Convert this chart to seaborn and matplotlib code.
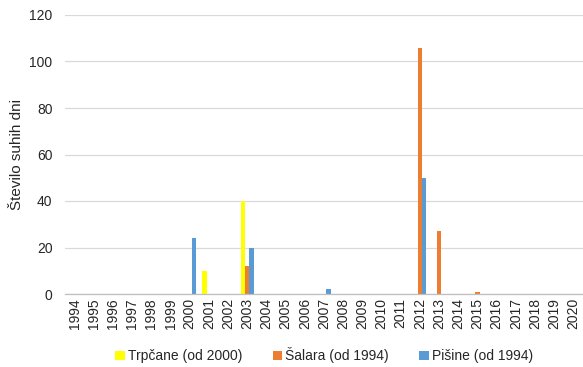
import numpy as np
import pandas as pd
import matplotlib
matplotlib.use("Agg")
import matplotlib.pyplot as plt
import seaborn as sns
from matplotlib.ticker import FixedLocator

years = [str(y) for y in range(1994, 2021)]
series_names = ["Trpčane (od 2000)", "Šalara (od 1994)", "Pišine (od 1994)"]
colors = ["#FFFF00", "#ED7D31", "#5B9BD5"]

# number of dry days per year for each station
trpcane = [np.nan] * 6 + [0, 10, 0, 40, 0, 0, 0, 0, 0, 0, 0, 0, 0, 0, 0, 0, 0, 0, 0, 0, 0]
salara = [0, 0, 0, 0, 0, 0, 0, 0, 0, 12, 0, 0, 0, 0, 0, 0, 0, 0, 106, 27, 0, 1, 0, 0, 0, 0, 0]
pisine = [0, 0, 0, 0, 0, 0, 24, 0, 0, 20, 0, 0, 0, 2, 0, 0, 0, 0, 50, 0, 0, 0, 0, 0, 0, 0, 0]

df = pd.DataFrame({
    "year": years * 3,
    "station": [series_names[0]] * 27 + [series_names[1]] * 27 + [series_names[2]] * 27,
    "days": trpcane + salara + pisine,
})

sns.set_theme(style="white")
plt.rcParams["font.family"] = ["Liberation Sans", "DejaVu Sans"]

fig = plt.figure(figsize=(5.83, 3.67), dpi=100)
ax = fig.add_axes([65 / 583, 1 - 294 / 367, 518 / 583, (294 - 15) / 367])

sns.barplot(data=df, x="year", y="days", hue="station", order=years,
            hue_order=series_names, palette=colors, saturation=1, width=0.68,
            linewidth=0, errorbar=None, ax=ax, legend=True)

ax.set_ylim(0, 120)
ax.set_yticks(range(0, 121, 20))
ax.set_xlim(-0.5, len(years) - 0.5)
ax.yaxis.grid(True, color="#D9D9D9", linewidth=0.9)
ax.set_axisbelow(True)
for s in ["top", "right", "left"]:
    ax.spines[s].set_visible(False)
ax.spines["bottom"].set_color("#BFBFBF")
ax.spines["bottom"].set_linewidth(0.9)

ax.tick_params(axis="y", length=0, labelsize=10, colors="#262626", pad=9)
ax.tick_params(axis="x", which="major", length=0, labelsize=10, colors="#262626",
               rotation=90, pad=3)
ax.xaxis.set_minor_locator(FixedLocator(np.arange(-0.5, len(years), 1.0)))
ax.tick_params(axis="x", which="minor", direction="in", length=5,
               color="#BFBFBF", width=0.9)

ax.set_xlabel("")
ax.set_ylabel("Število suhih dni", fontsize=11, color="#262626")
ax.yaxis.set_label_coords(-41 / 518, 0.5)

handles, labels = ax.get_legend_handles_labels()
ax.legend(handles, labels, loc="center", bbox_to_anchor=(0.5, -0.22),
          ncol=3, frameon=False, fontsize=10, handlelength=0.7,
          handleheight=0.7, handletextpad=0.2, columnspacing=2.2,
          labelcolor="#262626")

fig.savefig("out.png", dpi=100)
